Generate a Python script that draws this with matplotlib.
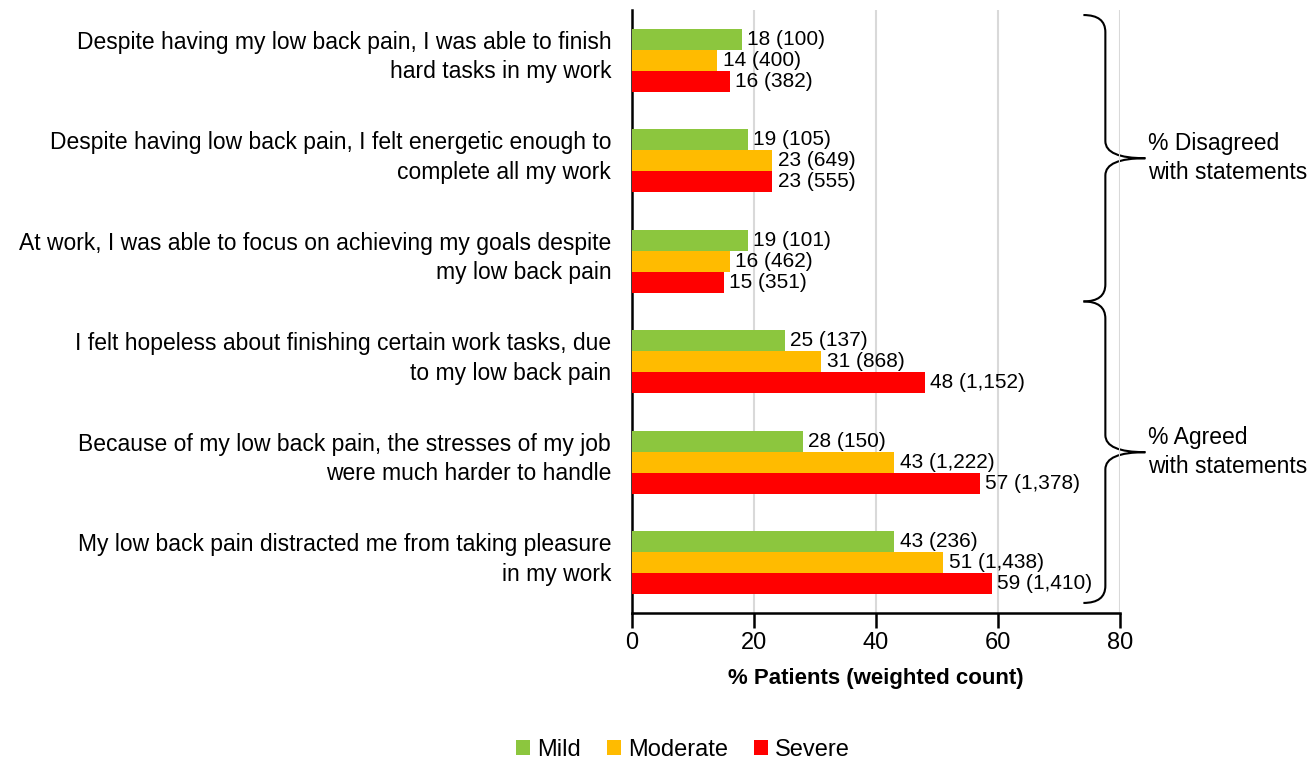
import numpy as np
import matplotlib.pyplot as plt
from matplotlib.path import Path
from matplotlib.patches import PathPatch
import matplotlib.transforms as mtransforms

plt.rcParams['font.family'] = ['Liberation Sans', 'DejaVu Sans']

statements = [
    'Despite having my low back pain, I was able to finish\nhard tasks in my work',
    'Despite having low back pain, I felt energetic enough to\ncomplete all my work',
    'At work, I was able to focus on achieving my goals despite\nmy low back pain',
    'I felt hopeless about finishing certain work tasks, due\nto my low back pain',
    'Because of my low back pain, the stresses of my job\nwere much harder to handle',
    'My low back pain distracted me from taking pleasure\nin my work',
]
mild_pct = [18, 19, 19, 25, 28, 43]
mild_n = ['100', '105', '101', '137', '150', '236']
moderate_pct = [14, 23, 16, 31, 43, 51]
moderate_n = ['400', '649', '462', '868', '1,222', '1,438']
severe_pct = [16, 23, 15, 48, 57, 59]
severe_n = ['382', '555', '351', '1,152', '1,378', '1,410']

series = [
    ('Mild', mild_pct, mild_n, '#8CC63E'),
    ('Moderate', moderate_pct, moderate_n, '#FFBB00'),
    ('Severe', severe_pct, severe_n, '#FF0000'),
]

fig = plt.figure(figsize=(13.12, 7.6), dpi=100)
ax = fig.add_axes([632/1312, 1-613/760, 488/1312, 603/760])

y = np.arange(len(statements))
h = 0.21
for k, (name, pct, n, col) in enumerate(series):
    bars = ax.barh(y + (k-1)*h, pct, height=h, color=col, label=name, zorder=3)
    ax.bar_label(bars, labels=[f'{p} ({c})' for p, c in zip(pct, n)],
                 padding=4, fontsize=15, zorder=4)

ax.set_ylim(len(statements)-0.5, -0.5)
ax.set_xlim(0, 80)
ax.set_xticks([0, 20, 40, 60, 80])
ax.set_yticks(y)
ax.set_yticklabels(statements, fontsize=16.5, linespacing=1.35)
ax.tick_params(axis='y', length=0, pad=15)
ax.tick_params(axis='x', length=11, width=1.8, labelsize=17, pad=3, direction='out')
shift = mtransforms.ScaledTranslation(0, 0.09, fig.dpi_scale_trans)
for lab in ax.get_yticklabels():
    lab.set_transform(lab.get_transform() + shift)
ax.grid(axis='x', color='#D9D9D9', linewidth=1.5, zorder=0)
ax.spines['top'].set_visible(False)
ax.spines['right'].set_visible(False)
ax.spines['left'].set_linewidth(1.8)
ax.spines['bottom'].set_linewidth(1.8)
ax.set_xlabel('% Patients (weighted count)', fontsize=16, fontweight='bold', labelpad=10)

# braces on the right: x in axes fraction, y in data
trans = mtransforms.blended_transform_factory(ax.transAxes, ax.transData)


def brace(y0, y1, x0=0.925, x1=0.97, x2=1.052, r=0.17):
    ym = (y0 + y1) / 2
    verts = [(x0, y0), (x1, y0), (x1, y0 + r),
             (x1, ym - r), (x1, ym), (x2, ym),
             (x1, ym), (x1, ym + r),
             (x1, y1 - r), (x1, y1), (x0, y1)]
    codes = [Path.MOVETO, Path.CURVE3, Path.CURVE3,
             Path.LINETO, Path.CURVE3, Path.CURVE3,
             Path.CURVE3, Path.CURVE3,
             Path.LINETO, Path.CURVE3, Path.CURVE3]
    ax.add_patch(PathPatch(Path(verts, codes), fill=False, lw=1.5,
                           edgecolor='black', transform=trans, clip_on=False))
    return ym


ym1 = brace(-0.45, 2.4)
ym2 = brace(2.4, 5.4)
ax.text(1.058, ym1, '% Disagreed\nwith statements', transform=trans,
        fontsize=16.5, va='center', ha='left', linespacing=1.35)
ax.text(1.058, ym2, '% Agreed\nwith statements', transform=trans,
        fontsize=16.5, va='center', ha='left', linespacing=1.35)

fig.legend(loc='center', bbox_to_anchor=(683/1312, 1-750/760), ncol=3,
           frameon=False, fontsize=17, handlelength=0.6, handleheight=0.6,
           handletextpad=0.3, columnspacing=1.1)

fig.savefig('out.png', dpi=100)
